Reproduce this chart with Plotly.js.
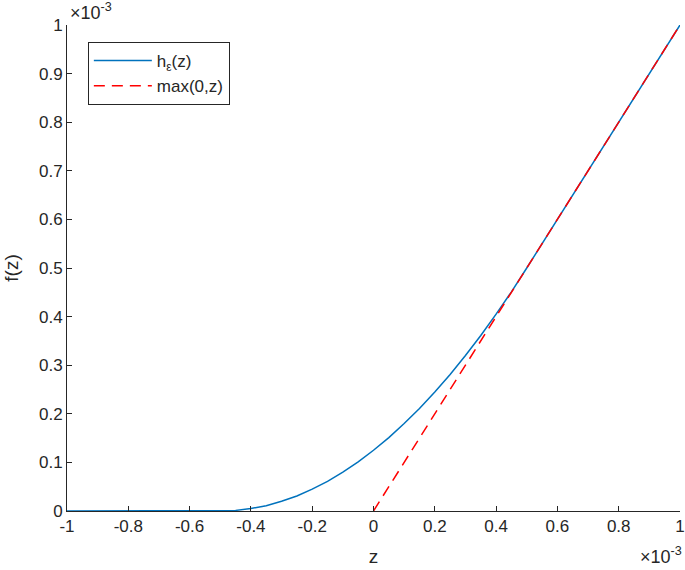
<!DOCTYPE html>
<html>
<head>
<meta charset="utf-8">
<script src="https://cdn.plot.ly/plotly-3.0.1.min.js"></script>
<style>
  body { margin: 0; background: #fff; }
  #chart { width: 685px; height: 570px; }
</style>
</head>
<body>
<div id="chart"></div>
<script>
// values in units of 1e-3
const hZ = [-1, -0.5, -0.45, -0.4, -0.35, -0.3, -0.25, -0.2, -0.15, -0.1, -0.05, 0,
            0.05, 0.1, 0.15, 0.2, 0.25, 0.3, 0.35, 0.4, 0.45, 0.5, 1];
const hF = [0, 0, 0.00125, 0.005, 0.011, 0.02, 0.031, 0.045, 0.061, 0.08, 0.101, 0.125,
            0.151, 0.18, 0.211, 0.245, 0.281, 0.32, 0.361, 0.405, 0.451, 0.5, 1];
const reluZ = [0, 1];
const reluF = [0, 1];

const xTicks = [-1, -0.8, -0.6, -0.4, -0.2, 0, 0.2, 0.4, 0.6, 0.8, 1];
const xTickText = ['-1', '-0.8', '-0.6', '-0.4', '-0.2', '0', '0.2', '0.4', '0.6', '0.8', '1'];
const yTicks = [0, 0.1, 0.2, 0.3, 0.4, 0.5, 0.6, 0.7, 0.8, 0.9, 1];
const yTickText = ['0', '0.1', '0.2', '0.3', '0.4', '0.5', '0.6', '0.7', '0.8', '0.9', '1'];

const font = 'Liberation Sans, Arial, sans-serif';
const ink = '#262626';

const traces = [
    {
        x: hZ, y: hF, type: 'scatter', mode: 'lines',
        name: 'h<sub>ε</sub>(z)',
        line: { color: '#0072BD', width: 1.5 }
    },
    {
        x: reluZ, y: reluF, type: 'scatter', mode: 'lines',
        name: 'max(0,z)',
        line: { color: '#FF0000', width: 1.5, dash: '11px,7px' }
    }
];

const axisCommon = {
    showgrid: false,
    zeroline: false,
    showline: true,
    linecolor: ink,
    linewidth: 1,
    ticks: 'inside',
    ticklen: 5,
    tickcolor: ink,
    tickfont: { family: font, size: 17, color: ink },
    tickmode: 'array',
    automargin: false,
    ticklabeloverflow: 'allow'
};

const layout = {
    width: 685,
    height: 570,
    margin: { l: 67, r: 5, t: 25, b: 59 },
    paper_bgcolor: '#fff',
    plot_bgcolor: '#fff',
    font: { family: font, color: ink },
    xaxis: Object.assign({}, axisCommon, {
        range: [-1, 1],
        tickvals: xTicks, ticktext: xTickText,
        title: { text: 'z', font: { family: font, size: 19, color: ink }, standoff: 14 }
    }),
    yaxis: Object.assign({}, axisCommon, {
        range: [0, 1],
        tickvals: yTicks, ticktext: yTickText,
        title: { text: 'f(z)', font: { family: font, size: 19, color: ink }, standoff: 15 }
    }),
    showlegend: true,
    legend: {
        x: 0.034, y: 0.965, xanchor: 'left', yanchor: 'top',
        bgcolor: '#fff',
        bordercolor: ink,
        borderwidth: 1,
        itemwidth: 58,
        font: { family: font, size: 17, color: ink }
    },
    annotations: [
        {
            xref: 'paper', yref: 'paper', x: 0, y: 1, xanchor: 'left', yanchor: 'bottom',
            xshift: 1, yshift: 0, showarrow: false,
            text: '×10<sup>-3</sup>',
            font: { family: font, size: 18, color: ink }
        },
        {
            xref: 'paper', yref: 'paper', x: 1, y: 0, xanchor: 'right', yanchor: 'bottom',
            yshift: -58, xshift: 4, showarrow: false,
            text: '×10<sup>-3</sup>',
            font: { family: font, size: 18, color: ink }
        }
    ]
};

Plotly.newPlot('chart', traces, layout, { displayModeBar: false, staticPlot: true });
</script>
</body>
</html>
